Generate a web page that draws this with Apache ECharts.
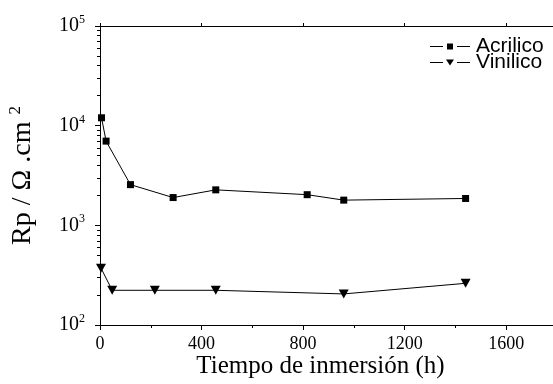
<!DOCTYPE html>
<html>
<head>
<meta charset="utf-8">
<script src="https://cdn.jsdelivr.net/npm/echarts@6/dist/echarts.min.js"></script>
<style>html,body{margin:0;padding:0;background:#fff}#c{width:553px;height:384px}</style>
</head>
<body>
<div id="c"></div>
<script>
const acrTime = [6, 24, 120, 288, 456, 816, 960, 1440];
const acrRp = [12000, 7000, 2560, 1900, 2270, 2030, 1790, 1860];
const vinTime = [4, 48, 216, 456, 960, 1440];
const vinRp = [372, 223, 223, 223, 205, 262];
const xTicks = [0, 400, 800, 1200, 1600];
const yTicks = [100, 1000, 10000, 100000];
const yMinor = [200,300,400,500,600,700,800,900,2000,3000,4000,5000,6000,7000,8000,9000,20000,30000,40000,50000,60000,70000,80000,90000];
const xMinor = [200, 600, 1000, 1400];

const serif = '"Liberation Serif", "Times New Roman", serif';
const sans = '"Liberation Sans", Arial, sans-serif';
const chart = echarts.init(document.getElementById('c'));
const zip = (a, b) => a.map((v, i) => [v, b[i]]);
const iconSquare = 'path://M0 2.4H13V3.6H0Z M17 0H23V6H17Z M27 2.4H40V3.6H27Z';
const iconTri = 'path://M0 2.4H13V3.6H0Z M16 0H24L20 6Z M27 2.4H40V3.6H27Z';
chart.setOption({
  animation: false,
  backgroundColor: '#fff',
  grid: {left: 100, top: 26, right: -4, bottom: 59, containLabel: false, outerBoundsMode: 'none'},
  legend: {
    orient: 'vertical', left: 425, top: 31, itemWidth: 42, itemHeight: 6, itemGap: -5,
    textStyle: {fontFamily: sans, fontSize: 21, color: '#000'},
    data: [{name: 'Acrilico', icon: iconSquare}, {name: 'Vinilico', icon: iconTri}]
  },
  xAxis: [{
    type: 'value', min: 0, max: 1800, interval: 400,
    name: 'Tiempo de inmersión (h)', nameLocation: 'middle', nameGap: 29, nameMoveOverlap: false,
    nameTextStyle: {fontFamily: serif, fontSize: 25, color: '#000', padding: [0, 16, 0, 0]},
    axisLine: {lineStyle: {color: '#000', width: 1}},
    axisTick: {show: true, length: 5, lineStyle: {color: '#000'}, customValues: xTicks},
    axisLabel: {fontFamily: serif, fontSize: 18, color: '#000', margin: 10, customValues: xTicks,
      formatter: v => String(v)},
    splitLine: {show: false}
  }, {
    type: 'value', min: 0, max: 1800, position: 'bottom',
    axisLine: {show: true, lineStyle: {color: '#000', width: 1}},
    axisTick: {show: true, length: 3, lineStyle: {color: '#000'}, customValues: xMinor},
    axisLabel: {show: false}, splitLine: {show: false}
  }, {
    type: 'value', min: 0, max: 1800, position: 'top',
    axisLine: {lineStyle: {color: '#000', width: 1}},
    axisTick: {show: true, length: 3, lineStyle: {color: '#000'}, customValues: xTicks},
    axisLabel: {show: false}, splitLine: {show: false}
  }],
  yAxis: [{
    type: 'log', logBase: 10, min: 100, max: 100000,
    name: 'Rp / Ω .cm {s|2}', nameLocation: 'middle', nameGap: 61, nameRotate: 90, nameMoveOverlap: false,
    nameTextStyle: {fontFamily: serif, fontSize: 28, color: '#000',
      rich: {s: {fontFamily: serif, fontSize: 17, color: '#000', padding: [0, 0, 15, 0]}}},
    axisLine: {show: true, lineStyle: {color: '#000', width: 1}},
    axisTick: {show: true, length: 5, lineStyle: {color: '#000'}, customValues: yTicks},
    axisLabel: {
      fontFamily: serif, color: '#000', margin: 15, customValues: yTicks,
      formatter: v => '{b|10}{s|' + Math.round(Math.log10(v)) + '}',
      rich: {
        b: {fontFamily: serif, fontSize: 20, color: '#000'},
        s: {fontFamily: serif, fontSize: 12, color: '#000', padding: [0, 0, 12, 0]}
      }
    },
    splitLine: {show: false}
  }, {
    type: 'log', logBase: 10, min: 100, max: 100000, position: 'left',
    axisLine: {show: true, lineStyle: {color: '#000', width: 1}},
    axisTick: {show: true, length: 3, lineStyle: {color: '#000'}, customValues: yMinor},
    axisLabel: {show: false}, splitLine: {show: false}
  }],
  series: [{
    name: 'Acrilico', type: 'line', data: zip(acrTime, acrRp),
    symbol: 'rect', symbolSize: 7,
    lineStyle: {color: '#000', width: 1}, itemStyle: {color: '#000'}, color: '#000'
  }, {
    name: 'Vinilico', type: 'line', data: zip(vinTime, vinRp),
    symbol: 'triangle', symbolSize: [10, 9], symbolRotate: 180,
    lineStyle: {color: '#000', width: 1}, itemStyle: {color: '#000'}, color: '#000'
  }]
});
</script>
</body>
</html>
